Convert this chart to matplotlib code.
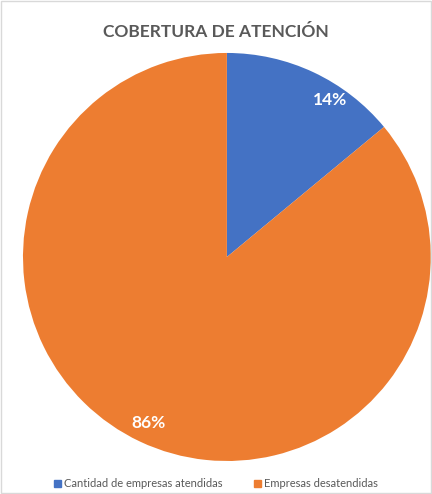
import matplotlib
matplotlib.use("Agg")
import matplotlib.pyplot as plt
import numpy as np

categories = ["Cantidad de empresas atendidas", "Empresas desatendidas"]
values = [14, 86]
colors = ["#4472C4", "#ED7D31"]
title = "COBERTURA DE ATENCIÓN"

plt.rcParams['font.family'] = ['Lato', 'DejaVu Sans']

fig = plt.figure(figsize=(4.32, 4.94), dpi=100)
fig.patch.set_facecolor("#FFFFFF")
# outer border
fig.add_artist(plt.Rectangle((0.002, 0.002), 0.996, 0.996, transform=fig.transFigure,
                             fill=False, edgecolor="#D9D9D9", linewidth=1))

ax = fig.add_axes([0.0532, 0.0668, 0.944, 0.826])
wedges, texts, autotexts = ax.pie(values, colors=colors, startangle=90, counterclock=False,
                                  autopct=lambda p: f"{p:.0f}%", pctdistance=0.9,
                                  wedgeprops=dict(linewidth=0),
                                  textprops=dict(color="white", fontsize=12.5, fontweight="bold"))
ax.set_xlim(-1.0, 1.0)
ax.set_ylim(-1.0, 1.0)
ax.set_aspect("auto")
# nudge first label slightly like Excel placement
ang = np.deg2rad(90 - 33)
autotexts[0].set_position((0.93 * np.cos(ang), 0.93 * np.sin(ang) - 0.01))
for t in autotexts:
    t.set_color("#FFFFFF")

fig.text(0.5, 0.935, title, ha="center", va="center", fontsize=12.5, fontweight="bold",
         color="#595959")

handles = [plt.Rectangle((0, 0), 1, 1, color=c) for c in colors]
fig.legend(handles, categories, loc="center", bbox_to_anchor=(0.5, 0.021), ncol=2,
           frameon=False, fontsize=8, labelcolor="#595959", handlelength=0.6,
           handleheight=0.6, handletextpad=0.3, columnspacing=2.8)

fig.savefig("out.png", dpi=100)
